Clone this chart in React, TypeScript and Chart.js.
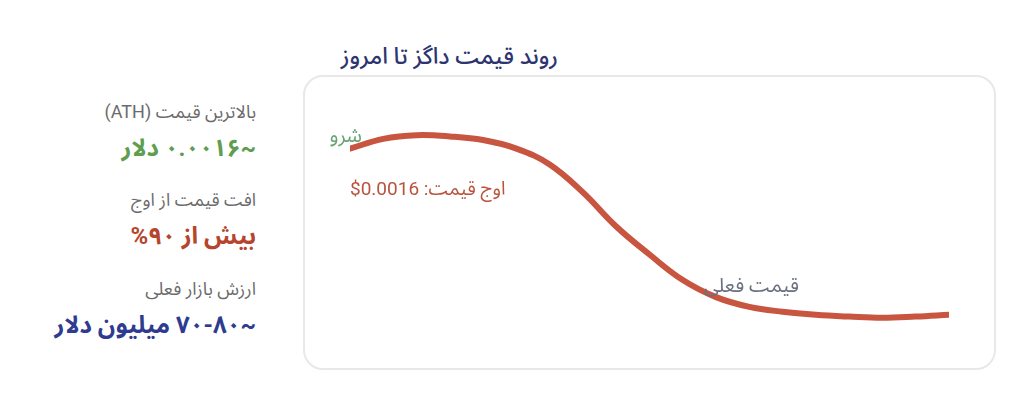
import React, { useEffect, useRef } from "react";
import { Chart, registerables, ChartConfiguration, Plugin } from "chart.js";

Chart.register(...registerables);

// price path from launch to today (USD)
const days = [0, 1, 2, 3, 4, 5, 6, 7, 8, 9, 10, 11, 12, 13, 14, 15, 16, 17, 18];
const prices = [
  0.00149, 0.00157, 0.0016, 0.00159, 0.00156, 0.00149, 0.00136, 0.00113, 0.00085,
  0.00062, 0.00041, 0.00027, 0.00019, 0.00015, 0.000125, 0.00011, 0.0001, 0.00011,
  0.000125,
];

const title = "روند قیمت داگز تا امروز";
const startLabel = "شرو";
const peakLabel = "اوج قیمت: \u2066$0.0016\u2069";
const nowLabel = "قیمت فعلی";

const statLabels = ["بالاترین قیمت (ATH)", "افت قیمت از اوج", "ارزش بازار فعلی"];
const statValues = ["~۰.۰۰۱۶ دلار", "بیش از ۹۰%", "~۷۰-۸۰ میلیون دلار"];
const statColors = ["#5f9e4f", "#b5452d", "#2e3b8e"];

const FONT = "Roboto, 'Noto Sans Arabic', Vazirmatn, 'DejaVu Sans', sans-serif";

const annotations: Plugin<"line"> = {
  id: "annotations",
  afterDatasetsDraw(chart) {
    const { ctx } = chart;
    const pts = chart.getDatasetMeta(0).data;
    const start = pts[0];
    const peak = pts[2];
    const now = pts[11];
    ctx.save();
    ctx.direction = "rtl";
    ctx.textBaseline = "middle";

    ctx.font = `20px ${FONT}`;
    ctx.fillStyle = "#66a572";
    ctx.textAlign = "right";
    ctx.fillText(startLabel, start.x + 12, start.y - 12);

    ctx.font = `19px ${FONT}`;
    ctx.fillStyle = "#b8533e";
    ctx.textAlign = "left";
    ctx.fillText(peakLabel, start.x, peak.y + 55);

    ctx.font = `20px ${FONT}`;
    ctx.fillStyle = "#6b6f80";
    ctx.fillText(nowLabel, now.x - 12, now.y - 10);
    ctx.restore();
  },
};

const PriceChart: React.FC = () => {
  const chartRef = useRef<HTMLCanvasElement>(null);
  const chartInstance = useRef<Chart | null>(null);

  useEffect(() => {
    if (!chartRef.current) return;
    if (chartInstance.current) chartInstance.current.destroy();

    const config: ChartConfiguration<"line"> = {
      type: "line",
      data: {
        labels: days,
        datasets: [
          {
            data: days.map((d, i) => ({ x: d, y: prices[i] })),
            borderColor: "#c8553f",
            borderWidth: 6,
            borderCapStyle: "round",
            borderJoinStyle: "round",
            tension: 0.4,
            pointRadius: 0,
            fill: false,
          },
        ],
      },
      options: {
        animation: false,
        responsive: false,
        maintainAspectRatio: false,
        layout: { padding: { left: 47, right: 47, top: 11.5, bottom: 40 } },
        scales: {
          x: { type: "linear", min: 0, max: 18, display: false },
          y: { min: 0, max: 0.002, display: false },
        },
        plugins: { legend: { display: false }, tooltip: { enabled: false } },
      },
      plugins: [annotations],
    };

    chartInstance.current = new Chart(chartRef.current, config);
    return () => {
      if (chartInstance.current) {
        chartInstance.current.destroy();
        chartInstance.current = null;
      }
    };
  }, []);

  return <canvas ref={chartRef} width={693} height={295} style={{ display: "block" }} />;
};

const statTops = [100, 188, 277];

export default function App() {
  return (
    <div
      style={{
        position: "absolute",
        left: 0,
        top: 0,
        width: 1024,
        height: 417,
        background: "#ffffff",
        fontFamily: FONT,
      }}
    >
      <div
        dir="rtl"
        style={{
          position: "absolute",
          right: 1024 - 558,
          top: 42,
          fontSize: 23,
          fontWeight: 500,
          color: "#2d3470",
          whiteSpace: "nowrap",
          lineHeight: "30px",
        }}
      >
        {title}
      </div>

      {statLabels.map((label, i) => (
        <div
          key={label}
          dir="rtl"
          style={{ position: "absolute", right: 1024 - 256, top: statTops[i], textAlign: "right", whiteSpace: "nowrap" }}
        >
          <div style={{ fontSize: 18, color: "#6b6b6b", lineHeight: "24px" }}>{label}</div>
          <div style={{ fontSize: 24, fontWeight: 700, color: statColors[i], lineHeight: "30px", marginTop: 9 }}>
            {statValues[i]}
          </div>
        </div>
      ))}

      <div
        style={{
          position: "absolute",
          left: 303,
          top: 75,
          width: 693,
          height: 295,
          boxSizing: "border-box",
          border: "2px solid #e8e8e8",
          borderRadius: 20,
          overflow: "hidden",
        }}
      >
        <div style={{ position: "absolute", left: -2, top: -2 }}>
          <PriceChart />
        </div>
      </div>
    </div>
  );
}
